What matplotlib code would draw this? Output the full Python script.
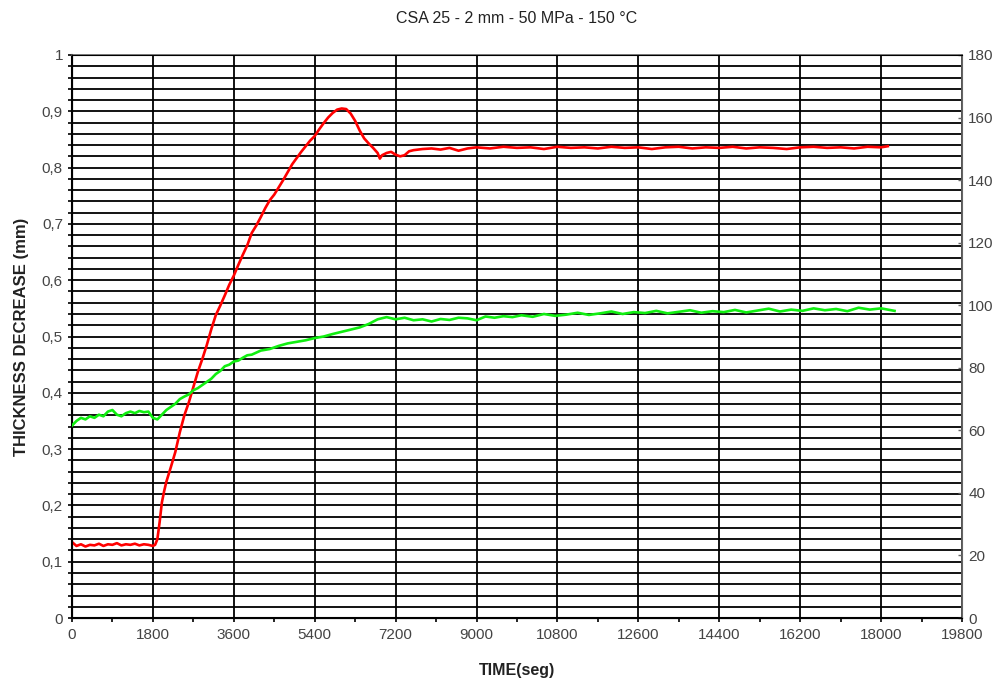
import matplotlib
matplotlib.use('Agg')
import matplotlib.pyplot as plt
import numpy as np
from matplotlib.ticker import MultipleLocator, FuncFormatter

plt.rcParams['font.family'] = ['Liberation Sans', 'DejaVu Sans']

# thickness decrease (mm), left axis
t_thick = [0, 100, 200, 300, 400, 500, 600, 700, 800, 900, 1000, 1100, 1200, 1300, 1400,
           1500, 1600, 1700, 1800, 1850, 1900, 1950, 2000, 2050, 2100, 2200, 2300, 2400,
           2500, 2600, 2700, 2800, 2900, 3000, 3100, 3200, 3300, 3400, 3500, 3600, 3700,
           3800, 3900, 4000, 4100, 4200, 4300, 4400, 4500, 4600, 4700, 4800, 4900, 5000,
           5100, 5200, 5300, 5400, 5500, 5600, 5700, 5800, 5900, 6000, 6100, 6200, 6300,
           6400, 6500, 6600, 6700, 6800, 6850, 6900, 7000, 7100, 7200, 7300, 7400, 7500,
           7600, 7800, 8000, 8200, 8400, 8600, 8800, 9000, 9300, 9600, 9900, 10200, 10500,
           10800, 11100, 11400, 11700, 12000, 12300, 12600, 12900, 13200, 13500, 13800,
           14100, 14400, 14700, 15000, 15300, 15600, 15900, 16200, 16500, 16800, 17100,
           17400, 17700, 18000, 18150]
thickness = [0.135, 0.128, 0.131, 0.127, 0.130, 0.129, 0.132, 0.128, 0.131, 0.130, 0.133,
             0.129, 0.131, 0.130, 0.132, 0.129, 0.131, 0.130, 0.128, 0.130, 0.140, 0.170,
             0.205, 0.225, 0.242, 0.268, 0.295, 0.330, 0.360, 0.383, 0.410, 0.437, 0.460,
             0.485, 0.513, 0.538, 0.555, 0.573, 0.592, 0.608, 0.627, 0.645, 0.662, 0.684,
             0.697, 0.712, 0.728, 0.742, 0.752, 0.765, 0.778, 0.792, 0.806, 0.817, 0.828,
             0.838, 0.848, 0.856, 0.868, 0.879, 0.889, 0.897, 0.903, 0.905, 0.904, 0.896,
             0.883, 0.866, 0.852, 0.843, 0.835, 0.826, 0.816, 0.822, 0.826, 0.828, 0.823,
             0.820, 0.822, 0.829, 0.831, 0.833, 0.834, 0.832, 0.835, 0.830, 0.834, 0.836,
             0.834, 0.837, 0.835, 0.836, 0.833, 0.837, 0.835, 0.836, 0.834, 0.837, 0.835,
             0.836, 0.833, 0.836, 0.837, 0.834, 0.836, 0.835, 0.837, 0.834, 0.836, 0.835,
             0.833, 0.836, 0.837, 0.835, 0.836, 0.834, 0.837, 0.836, 0.838]

# temperature, right axis
t_temp = [0, 100, 200, 300, 400, 500, 600, 700, 800, 900, 1000, 1100, 1200, 1300, 1400,
          1500, 1600, 1700, 1750, 1800, 1900, 2000, 2100, 2200, 2300, 2400, 2500, 2600,
          2700, 2800, 2900, 3000, 3100, 3200, 3300, 3400, 3500, 3600, 3700, 3800, 3900,
          4000, 4200, 4400, 4600, 4800, 5000, 5200, 5400, 5600, 5800, 6000, 6200, 6400,
          6600, 6800, 7000, 7200, 7400, 7600, 7800, 8000, 8200, 8400, 8600, 8800, 9000,
          9200, 9400, 9600, 9800, 10000, 10250, 10500, 10750, 11000, 11250, 11500, 11750,
          12000, 12250, 12500, 12750, 13000, 13250, 13500, 13750, 14000, 14250, 14500,
          14750, 15000, 15250, 15500, 15750, 16000, 16250, 16500, 16750, 17000, 17250,
          17500, 17750, 18000, 18300]
temperature = [61.5, 63.0, 64.0, 63.5, 64.5, 64.0, 65.0, 64.5, 66.0, 66.5, 65.0, 64.5, 65.5,
               66.0, 65.5, 66.2, 65.8, 66.0, 65.0, 64.0, 63.5, 65.0, 66.5, 67.5, 68.5, 70.0,
               70.8, 71.5, 72.8, 73.5, 74.5, 75.5, 76.5, 78.0, 79.0, 80.5, 81.0, 82.0, 82.3,
               83.2, 84.0, 84.2, 85.5, 86.0, 87.0, 87.8, 88.3, 88.8, 89.5, 90.0, 90.8, 91.5,
               92.2, 92.9, 94.0, 95.5, 96.2, 95.5, 96.0, 95.2, 95.5, 94.8, 95.6, 95.3, 96.0,
               95.8, 95.2, 96.4, 96.0, 96.5, 96.2, 96.8, 96.3, 97.2, 96.6, 97.0, 97.6, 96.9,
               97.4, 98.0, 97.2, 97.8, 97.5, 98.2, 97.4, 97.9, 98.4, 97.6, 98.1, 97.8, 98.5,
               97.7, 98.3, 98.9, 98.0, 98.6, 98.2, 99.0, 98.4, 98.8, 98.1, 99.2, 98.6, 99.0,
               98.2]

x_ticks = list(range(0, 19801, 1800))


def comma(v, pos):
    s = '%g' % round(v, 2)
    return s.replace('.', ',')


def main():
    fig = plt.figure(figsize=(9.98, 6.79), dpi=100)
    ax = fig.add_axes([0.0721, 0.0898, 0.8918, 0.8292])

    ax.set_xlim(0, 19800)
    ax.set_ylim(0, 1)
    ax.set_xticks(x_ticks)
    ax.xaxis.set_minor_locator(MultipleLocator(900))
    ax.yaxis.set_major_locator(MultipleLocator(0.1))
    ax.yaxis.set_minor_locator(MultipleLocator(0.02))
    ax.yaxis.set_major_formatter(FuncFormatter(comma))

    ax.grid(True, which='major', axis='x', color='k', linewidth=1.3)
    ax.grid(True, which='both', axis='y', color='k', linewidth=1.3)
    ax.set_axisbelow(True)

    ax.tick_params(which='major', direction='out', length=3, width=1.2, color='k',
                   labelsize=11, labelcolor='#444444', pad=3.5)
    ax.tick_params(which='minor', direction='out', length=3, width=1.2, color='k')
    ax.tick_params(axis='x', pad=4.5)

    for side in ['left', 'bottom']:
        ax.spines[side].set_color('k')
        ax.spines[side].set_linewidth(1.5)
    for side in ['top', 'right']:
        ax.spines[side].set_color('#666666')
        ax.spines[side].set_linewidth(1.2)

    ax.plot(t_thick, thickness, color='#ff0000', linewidth=1.9, zorder=4)

    ax2 = ax.twinx()
    ax2.set_ylim(0, 180)
    ax2.yaxis.set_major_locator(MultipleLocator(20))
    ax2.tick_params(direction='in', length=3, width=1, color='#666666',
                    labelsize=11, labelcolor='#444444', pad=4.5)
    ax2.spines['right'].set_color('#666666')
    ax2.plot(t_temp, temperature, color='#11ee11', linewidth=1.9, zorder=3)

    ax.set_title('CSA 25 - 2 mm - 50 MPa - 150 °C', fontsize=11.5, color='#222222', pad=23)
    ax.set_xlabel('TIME(seg)', fontsize=11.5, color='#222222', fontweight='bold', labelpad=15)
    ax.set_ylabel('THICKNESS DECREASE (mm)', fontsize=12, color='#222222',
                  fontweight='bold', labelpad=9)

    fig.savefig('out.png', dpi=100)


if __name__ == '__main__':
    main()
